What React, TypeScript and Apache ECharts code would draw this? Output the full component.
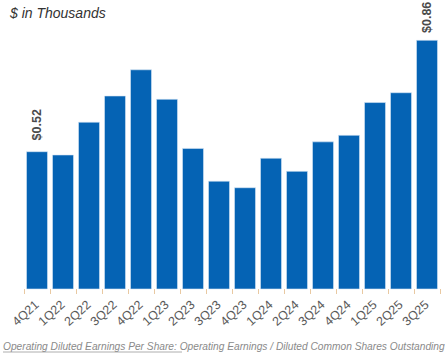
import React, { useEffect, useRef } from "react";
import * as echarts from "echarts";

const categories = ["4Q21","1Q22","2Q22","3Q22","4Q22","1Q23","2Q23","3Q23","4Q23","1Q24","2Q24","3Q24","4Q24","1Q25","2Q25","3Q25"];
const values = [0.52,0.51,0.61,0.69,0.77,0.68,0.53,0.43,0.41,0.50,0.46,0.55,0.57,0.67,0.70,0.86];
const labeledIndexes = [0, 15];
const titleText = "$ in Thousands";
const footLead = "Operating Diluted Earnings Per Share:";
const footRest = " Operating Earnings / Diluted Common Shares Outstanding";

export default function App() {
  const ref = useRef<HTMLDivElement>(null);
  useEffect(() => {
    if (!ref.current) return;
    const chart = echarts.init(ref.current, null, { renderer: "svg" });
    const data = values.map((v, i) => {
      if (!labeledIndexes.includes(i)) return v;
      return {
        value: v,
        label: {
          show: true,
          position: "top",
          rotate: 90,
          distance: i === 0 ? 11 : 7,
          align: "left",
          verticalAlign: "middle",
          formatter: "$" + v.toFixed(2),
          fontSize: 12.5,
          fontWeight: 600,
          color: "#4a4a4a",
          fontFamily: "Arial, Liberation Sans, sans-serif",
        },
      };
    });
    chart.setOption({
      animation: false,
      grid: { left: 24, right: 8, top: 40, bottom: 67, containLabel: false },
      xAxis: {
        type: "category",
        data: categories,
        axisLine: { show: false },
        axisTick: { show: true, length: 5, lineStyle: { color: "#e9c9a2" } },
        axisLabel: {
          rotate: 42,
          margin: 14,
          fontSize: 12.5,
          color: "#5a5a5a",
          fontFamily: "Arial, Liberation Sans, sans-serif",
          interval: 0,
        },
      },
      yAxis: { type: "value", min: 0.1, max: 0.86, show: false },
      series: [
        {
          type: "bar",
          data,
          barCategoryGap: "17%",
          itemStyle: { color: "#0563b4", borderColor: "#d6e6f5", borderWidth: 0.6 },
        },
      ],
      graphic: [
        {
          type: "text",
          left: 10,
          top: 6,
          style: {
            text: titleText,
            font: "italic 500 14px Arial, 'Liberation Sans', sans-serif",
            fill: "#333",
          },
        },
        {
          type: "text",
          x: 3,
          y: 341,
          style: {
            text: footLead + footRest,
            font: "italic 10.2px Arial, 'Liberation Sans', sans-serif",
            fill: "#8a8a8a",
          },
        },
        {
          type: "line",
          shape: { x1: 3, y1: 352, x2: 182, y2: 352 },
          style: { stroke: "#9a9a9a", lineWidth: 0.8 },
        },
      ],
    });
    return () => chart.dispose();
  }, []);
  return <div ref={ref} style={{ width: 448, height: 356, position: "absolute", left: 0, top: 0 }} />;
}
